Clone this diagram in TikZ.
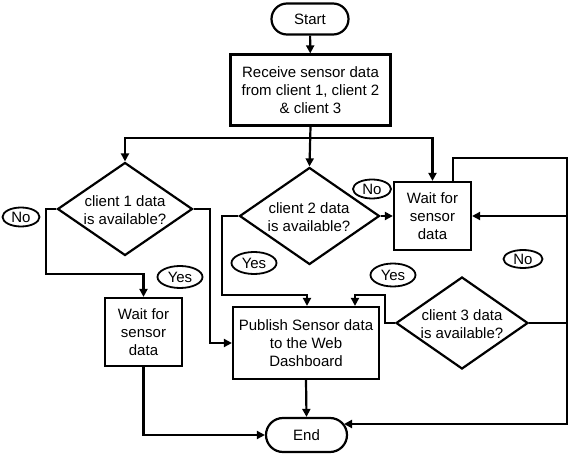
\documentclass[tikz,border=0pt]{standalone}
\usepackage{fontspec}
\setmainfont{Liberation Sans}
\usetikzlibrary{shapes.geometric,shapes.misc,arrows.meta}
\tikzset{
  base/.style={draw, line width=2.2pt, align=center, inner sep=0pt},
  stepbox/.style={base, rectangle},
  term/.style={base, rounded rectangle},
  dia/.style={base, diamond},
  txt/.style={align=center, inner sep=0pt},
  lbl/.style={draw, ellipse, line width=1.8pt, inner sep=0pt},
  arr/.style={line width=2.2pt, -{Triangle[length=8pt,width=8pt]}},
  ln/.style={line width=2.2pt},
}
\begin{document}
\begin{tikzpicture}[x=1pt,y=-1pt,font=\fontsize{15}{18}\selectfont]
\useasboundingbox (0,0) rectangle (576,454);
% nodes
\node[term, minimum width=77, minimum height=31] (start) at (310,19) {Start};
\node[stepbox, minimum width=160, minimum height=71] (recv) at (310.5,90) {Receive sensor data\\from client 1, client 2\\\& client 3};
\node[dia, minimum width=135, minimum height=93] (d1) at (125,209) {};
\node[txt] (t1) at (125,210) {client 1 data\\is available?};
\node[dia, minimum width=140, minimum height=97] (d2) at (309.5,216) {};
\node[txt] (t2) at (309,217) {client 2 data\\is available?};
\node[stepbox, minimum width=77, minimum height=68] (w2) at (432.5,216) {Wait for\\sensor\\data};
\node[stepbox, minimum width=77, minimum height=68] (w1) at (143.5,332) {Wait for\\sensor\\data};
\node[stepbox, minimum width=146, minimum height=72] (pub) at (306,343) {Publish Sensor data\\to the Web\\Dashboard};
\node[dia, minimum width=132, minimum height=92] (d3) at (462,323) {};
\node[txt] (t3) at (462,324) {client 3 data\\is available?};
\node[term, minimum width=81, minimum height=34] (end) at (306.5,435) {End};
% labels
\node[lbl, minimum width=37, minimum height=19] (no1) at (21,217) {No};
\node[lbl, minimum width=45, minimum height=22] (yes1) at (180,277) {Yes};
\node[lbl, minimum width=45, minimum height=22] (yes2) at (254,263) {Yes};
\node[lbl, minimum width=38, minimum height=19] (no2) at (372,189) {No};
\node[lbl, minimum width=45, minimum height=23] (yes3) at (393,275) {Yes};
\node[lbl, minimum width=39, minimum height=18] (no3) at (523,259) {No};
% coordinates
\coordinate (bl) at (125,138);
\coordinate (br) at (432.5,138);
\coordinate (n1a) at (46,209);
\coordinate (n1b) at (46,274);
\coordinate (y1) at (210,343);
\coordinate (y2a) at (222,295);
\coordinate (y2b) at (307,295);
\coordinate (y3a) at (385,323);
\coordinate (y3b) at (385,295);
\coordinate (y3c) at (355,295);
\coordinate (rA) at (567,323);
\coordinate (rB) at (567,216);
\coordinate (lp1) at (453,158);
\coordinate (lp2) at (567,158);
\coordinate (lp3) at (567,424);
\coordinate (e3) at (344,424);
% connectors
\draw[arr] (start) -- (recv);
\draw[arr] (recv.south) -- (d2.north);
\draw[arr] (recv.south |- bl) -- (bl) -- (d1.north);
\draw[arr] (recv.south |- br) -- (br) -- (w2.north);
\draw[arr] (d1.west) -- (n1a) -- (n1b) -| (w1.north);
\draw[arr] (d1.east) -| (y1) -- (pub.west);
\draw[arr] (w1.south) |- (end.west);
\draw[arr] (pub.south) -- (end.north);
\draw[arr] (d2.east) -- (w2.west);
\draw[arr] (d2.west) -| (y2a) -- (y2b) -- (y2b |- pub.north);
\draw[arr] (d3.west) -- (y3a) -- (y3b) -- (y3c) -- (y3c |- pub.north);
\draw[arr] (d3.east) -- (rA) -- (rB) -- (w2.east);
\draw[arr] (lp1 |- w2.north) -- (lp1) -- (lp2) -- (lp3) -- (e3);
\end{tikzpicture}
\end{document}
